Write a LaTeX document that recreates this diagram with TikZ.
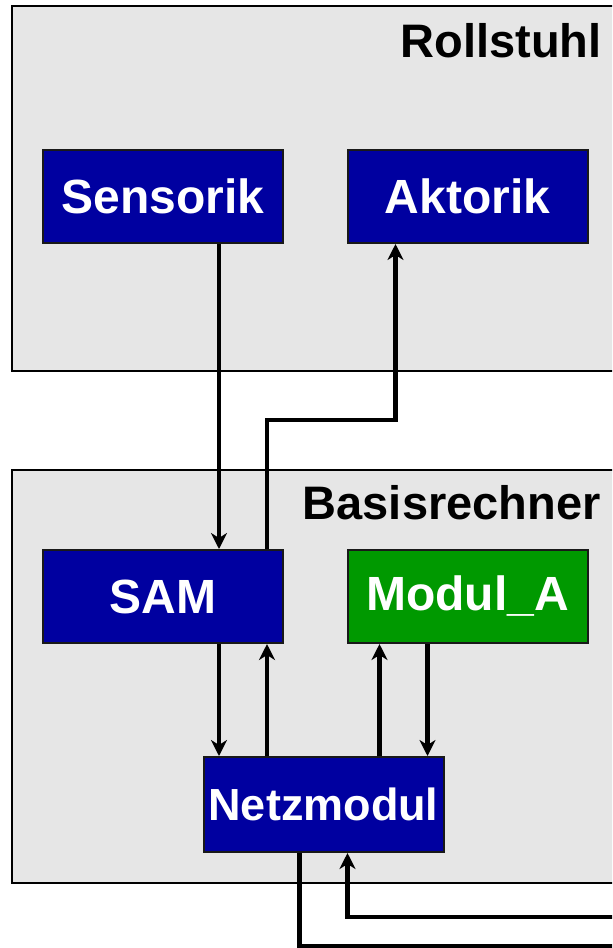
\documentclass[tikz,border=0pt]{standalone}
\usepackage{fontspec}
\setmainfont{Liberation Sans}
\usetikzlibrary{arrows.meta}
\definecolor{rahmengrau}{HTML}{E6E6E6}
\definecolor{modulblau}{HTML}{0000A0}
\definecolor{modulgruen}{HTML}{009900}
\tikzset{
  rahmen/.style={fill=rahmengrau,draw=black,line width=1.2pt},
  modul/.style={draw=black!90,line width=1pt,fill=modulblau,text=white,
    minimum width=120pt,minimum height=46.5pt,inner sep=0pt,
    font=\fontsize{24}{28}\selectfont\bfseries},
  titel/.style={inner sep=0pt,font=\fontsize{23.5}{28}\selectfont\bfseries},
  fluss/.style={->,line width=2.3pt}
}
\begin{document}
\begin{tikzpicture}[x=0.5pt,y=-0.5pt,>={Stealth[length=8pt,width=8pt,inset=2.5pt]}]
  \clip (0,0) rectangle (612,948);
  % Rollstuhl
  \draw[rahmen] (12,6) rectangle (630,371);
  \node[titel,anchor=base east] (rollstuhl) at (602,57) {Rollstuhl};
  \node[modul] (sensorik) at (163,196.5) {Sensorik};
  \node[modul] (aktorik) at (467.5,196.5) {Aktorik};
  % Basisrechner
  \draw[rahmen] (12,470) rectangle (630,883);
  \node[titel,anchor=base east] (basis) at (601,519) {Basisrechner};
  \node[modul] (sam) at (163,596.5) {SAM};
  \node[modul,fill=modulgruen] (modula) at (467.5,596.5) {Modul\_A};
  \node[modul,minimum height=47.5pt,font=\fontsize{22.5}{26}\selectfont\bfseries] (netz) at (323.5,804.5) {Netzmodul};
  % freie Enden
  \coordinate (aus) at (640,946);
  \coordinate (ein) at (640,917);
  % Verbindungen
  \draw[fluss] ([xshift=28pt]sensorik.south) -- ([xshift=28pt]sam.north);
  \draw[fluss] ([xshift=52pt]sam.north) -- ++(0,-129) -| ([xshift=-36pt]aktorik.south);
  \draw[fluss] ([xshift=28pt]sam.south) -- ([xshift=28pt]sam.south |- netz.north);
  \draw[fluss] ([xshift=52pt]sam.south |- netz.north) -- ([xshift=52pt]sam.south);
  \draw[fluss] ([xshift=-44pt]modula.south |- netz.north) -- ([xshift=-44pt]modula.south);
  \draw[fluss] ([xshift=-20pt]modula.south) -- ([xshift=-20pt]modula.south |- netz.north);
  \draw[line width=2.3pt] ([xshift=-12pt]netz.south) |- (aus);
  \draw[fluss] (ein) -| ([xshift=12pt]netz.south);
\end{tikzpicture}
\end{document}
